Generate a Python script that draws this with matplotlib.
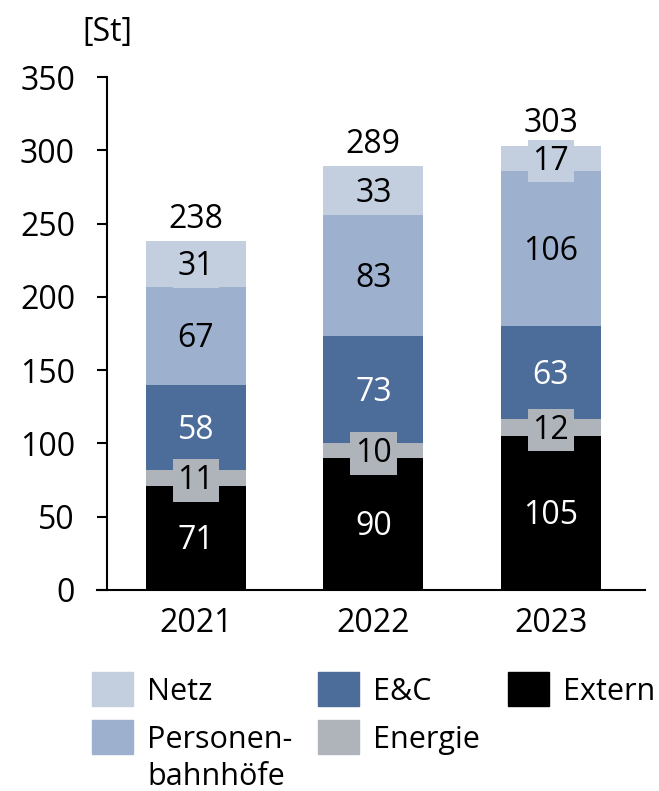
import matplotlib
matplotlib.use("Agg")
import matplotlib.pyplot as plt
from matplotlib.patches import Rectangle
import numpy as np

plt.rcParams["font.family"] = ["Open Sans", "DejaVu Sans"]

years = ["2021", "2022", "2023"]
extern = [71, 90, 105]
energie = [11, 10, 12]
ec = [58, 73, 63]
personenbahnhoefe = [67, 83, 106]
netz = [31, 33, 17]
totals = [238, 289, 303]

series = [
    ("Extern", extern, "#000000", "white"),
    ("Energie", energie, "#AFB3BA", "black"),
    ("E&C", ec, "#4C6C9A", "white"),
    ("Personenbahnhöfe", personenbahnhoefe, "#9DB1CF", "black"),
    ("Netz", netz, "#C3CEDF", "black"),
]

FS = 23

fig = plt.figure(figsize=(6.59, 7.91), dpi=100)
ax = fig.add_axes([107 / 659, 1 - 590 / 791, 538 / 659, 513 / 791])

x = np.arange(len(years))
width = 0.563
bottom = np.zeros(len(years))
for name, vals, color, tcolor in series:
    vals = np.array(vals, dtype=float)
    ax.bar(x, vals, width, bottom=bottom, color=color, zorder=2)
    for xi, b, v in zip(x, bottom, vals):
        ax.annotate(f"{int(v)}", (xi, b + v / 2), xytext=(0, -2),
                    textcoords="offset points", ha="center", va="center",
                    fontsize=FS, color=tcolor, zorder=4,
                    bbox=dict(boxstyle="square,pad=0.15", fc=color, ec="none"))
    bottom += vals

for xi, t in zip(x, totals):
    ax.annotate(f"{t}", (xi, t), xytext=(0, 4), textcoords="offset points",
                ha="center", va="bottom", fontsize=FS)

ax.set_xlim(-0.50, 2.53)
ax.set_ylim(0, 350)
ax.set_yticks(np.arange(0, 351, 50))
ax.set_xticks(x)
ax.set_xticklabels(years)
ax.tick_params(axis="y", labelsize=FS, length=7, width=1.5, direction="out", pad=16)
ax.tick_params(axis="x", labelsize=FS, length=0, pad=12)
for s in ["top", "right"]:
    ax.spines[s].set_visible(False)
ax.spines["left"].set_linewidth(1.5)
ax.spines["bottom"].set_visible(False)
# baseline extends left to the tick ends
ax.plot([-10 / 538, 1], [0, 0], transform=ax.transAxes, color="black",
        lw=1.5, clip_on=False, zorder=3)

fig.text(107 / 659, 1 - 32 / 791, "[St]", ha="center", va="center", fontsize=FS)

# legend, three columns; text lines placed by baseline
LFS = 22
legend_items = [
    ("Netz", "#C3CEDF", 92, 689),
    ("Personen-\nbahnhöfe", "#9DB1CF", 92, 737),
    ("E&C", "#4C6C9A", 318, 689),
    ("Energie", "#AFB3BA", 318, 737),
    ("Extern", "#000000", 508, 689),
]
for label, color, px, py in legend_items:
    fig.add_artist(Rectangle((px / 659, 1 - (py + 17) / 791), 41 / 659, 34 / 791,
                             transform=fig.transFigure, color=color))
    for k, line in enumerate(label.split("\n")):
        fig.text((px + 55) / 659, 1 - (py + 11 + 37 * k) / 791, line,
                 ha="left", va="baseline", fontsize=LFS)

fig.savefig("out.png", dpi=100)
